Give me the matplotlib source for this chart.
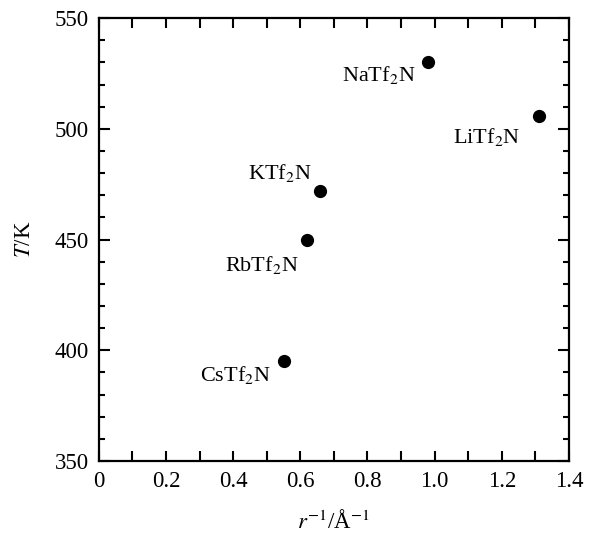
import numpy as np
import matplotlib.pyplot as plt
from matplotlib.ticker import MultipleLocator

# data
salts = ['NaTf$_2$N', 'LiTf$_2$N', 'KTf$_2$N', 'RbTf$_2$N', 'CsTf$_2$N']
r_inv = [0.98, 1.31, 0.66, 0.62, 0.55]
T = [530, 506, 472, 450, 395]
# label offsets in pixels (right edge of text, vertical centre)
offsets = [(-12, -13), (-18, -21), (-9, 18), (-8, -25), (-12, -14)]

plt.rcParams['font.family'] = ['Liberation Serif', 'DejaVu Serif']
plt.rcParams['mathtext.fontset'] = 'stix'

fig = plt.figure(figsize=(5.92, 5.33), dpi=100)
ax = fig.add_axes([0.167, 0.135, 0.794, 0.831])

ax.plot(r_inv, T, 'o', color='black', markersize=8.5, linestyle='none')

for name, x, y, off in zip(salts, r_inv, T, offsets):
    ax.annotate(name, (x, y), xytext=off, textcoords='offset pixels',
                ha='right', va='center', fontsize=16)

ax.set_xlim(0, 1.4)
ax.set_ylim(350, 550)
ax.xaxis.set_major_locator(MultipleLocator(0.2))
ax.xaxis.set_minor_locator(MultipleLocator(0.1))
ax.yaxis.set_major_locator(MultipleLocator(50))
ax.yaxis.set_minor_locator(MultipleLocator(10))
ax.set_xticks(np.arange(0, 1.41, 0.2))
ax.set_xticklabels(['0', '0.2', '0.4', '0.6', '0.8', '1.0', '1.2', '1.4'])

ax.tick_params(which='both', direction='in', top=True, right=True, width=1.5,
               labelsize=16.5, pad=7)
ax.tick_params(axis='x', which='both', length=7)
ax.tick_params(axis='y', which='major', length=8)
ax.tick_params(axis='y', which='minor', length=4.5)
for s in ax.spines.values():
    s.set_linewidth(1.6)

ax.set_xlabel('$r^{-1}$/Å$^{-1}$', fontsize=16.5, labelpad=14)
ax.set_ylabel('$T$/K', fontsize=16.5, labelpad=14)

fig.savefig('out.png', dpi=100)
